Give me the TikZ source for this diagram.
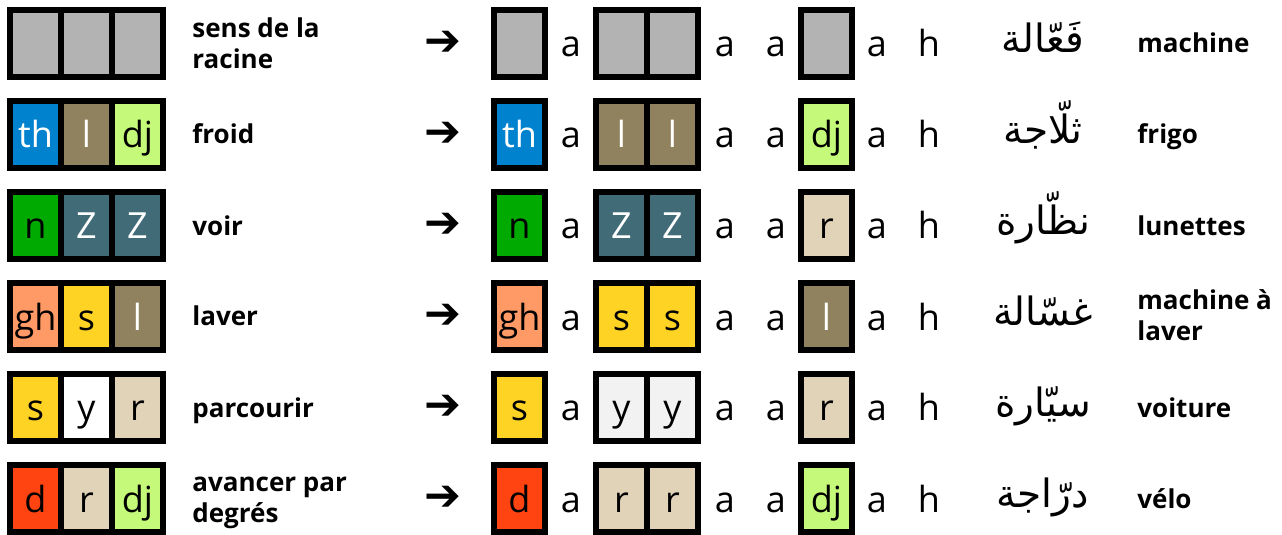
\documentclass[tikz,border=0pt]{standalone}
\usepackage{fontspec}
\setmainfont{Open Sans}
\newfontfamily\arabicfont[Script=Arabic]{DejaVu Sans}
\newfontfamily\dejavu{DejaVu Sans}
\TeXXeTstate=1
\usetikzlibrary{positioning}
\definecolor{rootgrey}{HTML}{B3B3B3}
\definecolor{thblue}{HTML}{0082CF}
\definecolor{lbrown}{HTML}{91825F}
\definecolor{djgreen}{HTML}{C5F97A}
\definecolor{ngreen}{HTML}{00AA00}
\definecolor{zslate}{HTML}{426B78}
\definecolor{ghsalmon}{HTML}{FF9966}
\definecolor{syellow}{HTML}{FFD324}
\definecolor{ylight}{HTML}{F2F2F2}
\definecolor{rbeige}{HTML}{E0D3B8}
\definecolor{dred}{HTML}{FF4412}

\begin{document}
\begin{tikzpicture}
  [x=0.5pt, y=-0.5pt,
   cell/.style={draw=black, line width=3pt, minimum width=25.5pt, minimum height=33.5pt,
     inner sep=0pt, text height=14pt, text depth=0.5pt, font=\fontsize{18}{20}\selectfont},
   rootcell/.style={cell, fill=rootgrey},
   thcell/.style={cell, fill=thblue, text=white},
   lcell/.style={cell, fill=lbrown, text=white},
   djcell/.style={cell, fill=djgreen},
   ncell/.style={cell, fill=ngreen},
   zcell/.style={cell, fill=zslate, text=white},
   ghcell/.style={cell, fill=ghsalmon},
   scell/.style={cell, fill=syellow},
   ycell/.style={cell, fill=white},
   yycell/.style={cell, fill=ylight},
   rcell/.style={cell, fill=rbeige},
   dcell/.style={cell, fill=dred},
   letter/.style={anchor=base, inner sep=0pt, font=\fontsize{18}{20}\selectfont},
   gloss/.style={anchor=base west, inner sep=0pt, align=left, font=\fontsize{13}{15.5}\selectfont\bfseries},
   arabic/.style={anchor=base, inner sep=0pt, font=\arabicfont\fontsize{19.5}{22}\selectfont}]
  \useasboundingbox (0,0) rectangle (1282,535);
  \foreach \ta/\tb/\tc/\td/\sa/\sb/\sc/\sd/\sm/\lab/\ly/\arab/\fr/\ry [count=\r from 0] in {
    {}/{}/{}/{}/rootcell/rootcell/rootcell/rootcell/rootcell/{sens de la\\racine}/25/فَعّالة/machine/9.5,
    th/l/dj/dj/thcell/lcell/djcell/djcell/lcell/froid/9.5/ثلّاجة/frigo/9.5,
    n/Z/Z/r/ncell/zcell/zcell/rcell/zcell/voir/9.5/نظّارة/lunettes/9.5,
    gh/s/l/l/ghcell/scell/lcell/lcell/scell/laver/9.5/غسّالة/{machine à\\laver}/24.5,
    s/y/r/r/scell/ycell/rcell/rcell/yycell/parcourir/9.5/سيّارة/voiture/9.5,
    d/r/dj/dj/dcell/rcell/djcell/djcell/rcell/{avancer par\\degrés}/24/درّاجة/vélo/9.5}{
    \pgfmathsetmacro\y{43.5+91*\r}
    \node (l1\r) at (35.5,\y) [\sa] {\ta};
    \node (l2\r) at (86.5,\y) [\sb] {\tb};
    \node (l3\r) at (137.5,\y) [\sc] {\tc};
    \node (gl\r) at (192,\y+\ly) [gloss] {\lab};
    \node (arrow\r) at (443,\y) [inner sep=0pt, font=\dejavu\fontsize{22}{24}\selectfont] {➔};
    \node (m1\r) at (519.5,\y) [\sa] {\ta};
    \node (m2\r) at (621.5,\y) [\sm] {\tb};
    \node (m3\r) at (672.5,\y) [\sm] {\tb};
    \node (m4\r) at (826.5,\y) [\sd] {\td};
    \node (a1\r) at (571,\y+13.5) [letter] {a};
    \node (a2\r) at (725,\y+13.5) [letter] {a};
    \node (a3\r) at (776,\y+13.5) [letter] {a};
    \node (a4\r) at (877,\y+13.5) [letter] {a};
    \node (h\r) at (929,\y+13.5) [letter] {h};
    \node (ab\r) at (1043,\y+9) [arabic] {\beginR\arab\endR};
    \node (fr\r) at (1137,\y+\ry) [gloss] {\fr};
  }
\end{tikzpicture}
\end{document}
